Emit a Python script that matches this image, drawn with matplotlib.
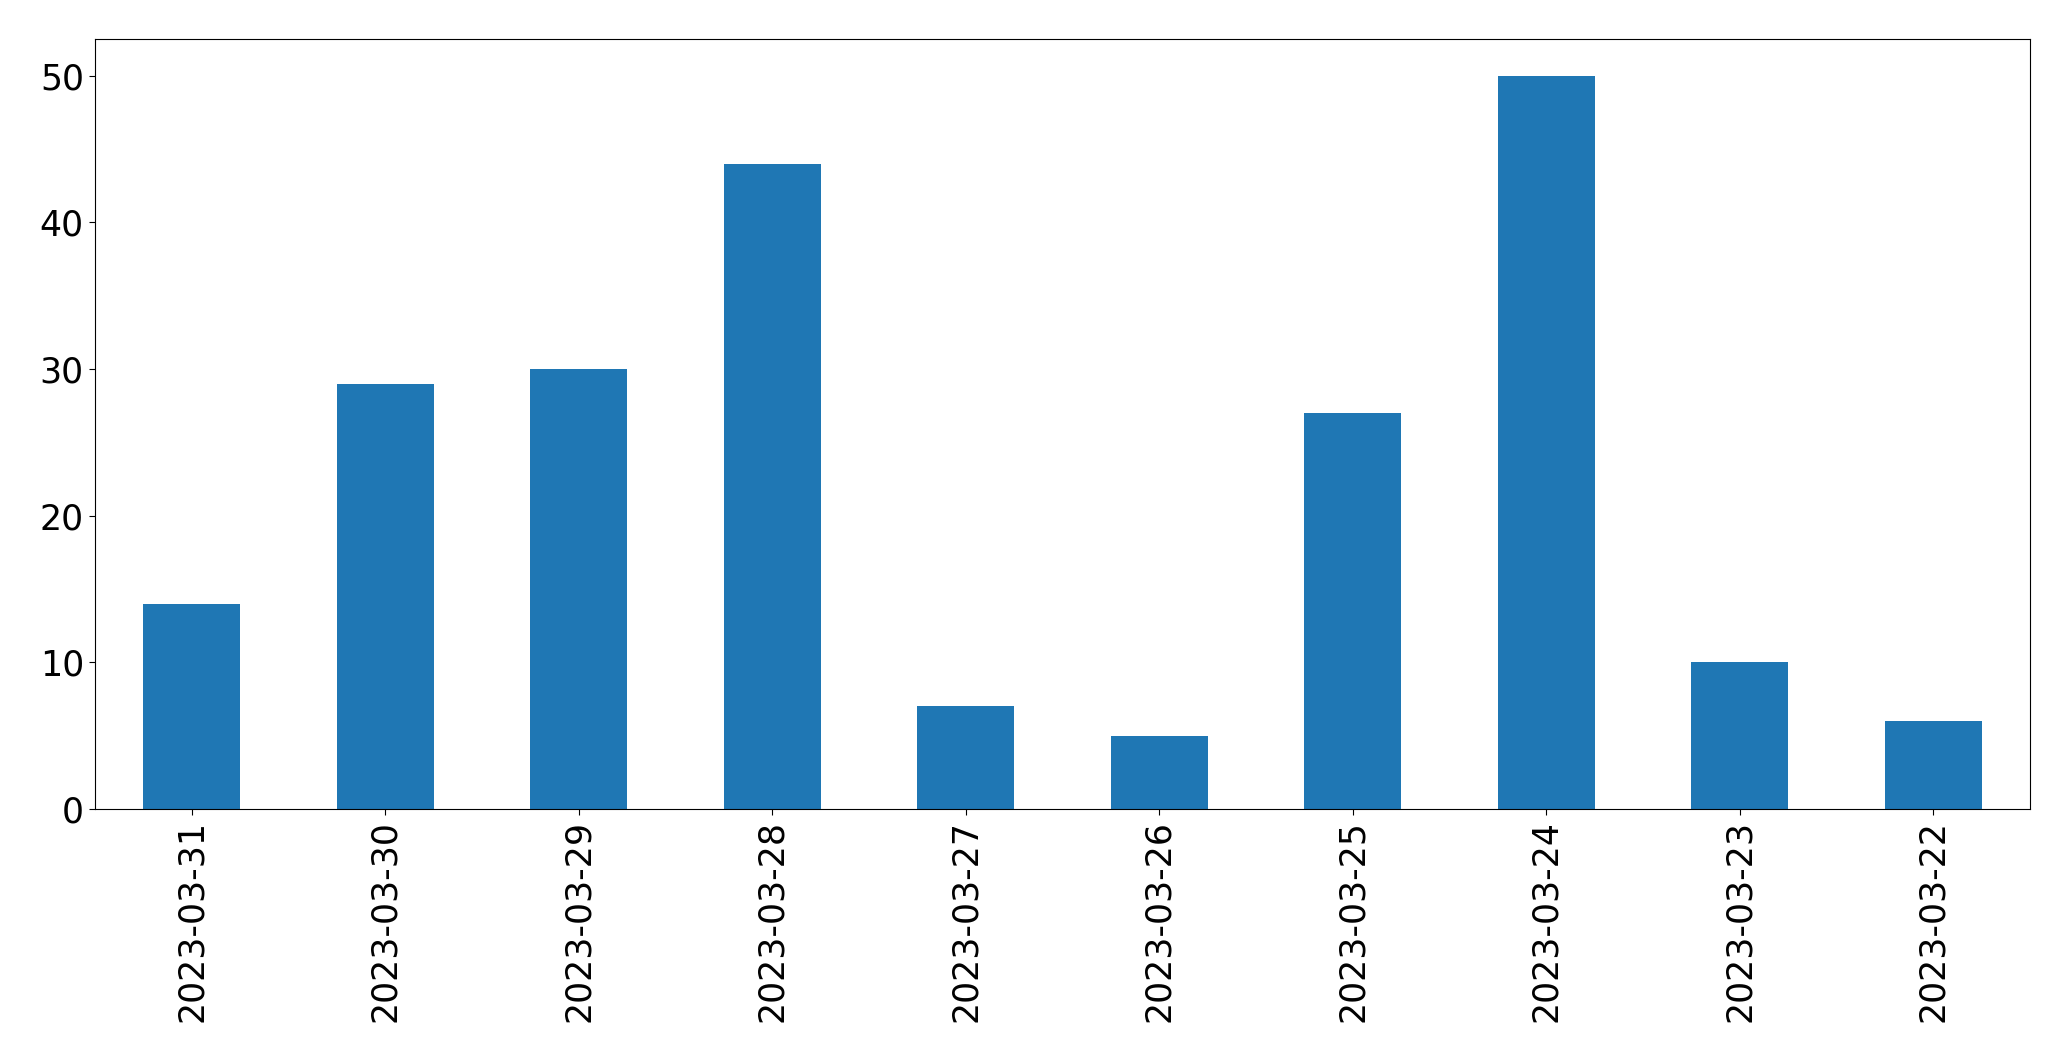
import matplotlib
matplotlib.use("Agg")
import matplotlib.pyplot as plt
import pandas as pd

dates = ["2023-03-31", "2023-03-30", "2023-03-29", "2023-03-28", "2023-03-27",
         "2023-03-26", "2023-03-25", "2023-03-24", "2023-03-23", "2023-03-22"]
counts = [14, 29, 30, 44, 7, 5, 27, 50, 10, 6]

s = pd.Series(counts, index=dates)

fig = plt.figure(figsize=(20.71, 10.61), dpi=100)
ax = fig.add_axes([95/2071, 1 - 809/1061, (2030 - 95)/2071, (809 - 39)/1061])
s.plot(kind="bar", ax=ax, color="#1f77b4", width=0.5)
ax.tick_params(axis="both", labelsize=25, length=4.5)
plt.setp(ax.get_xticklabels(), rotation=90)
fig.savefig("out.png", dpi=100)
